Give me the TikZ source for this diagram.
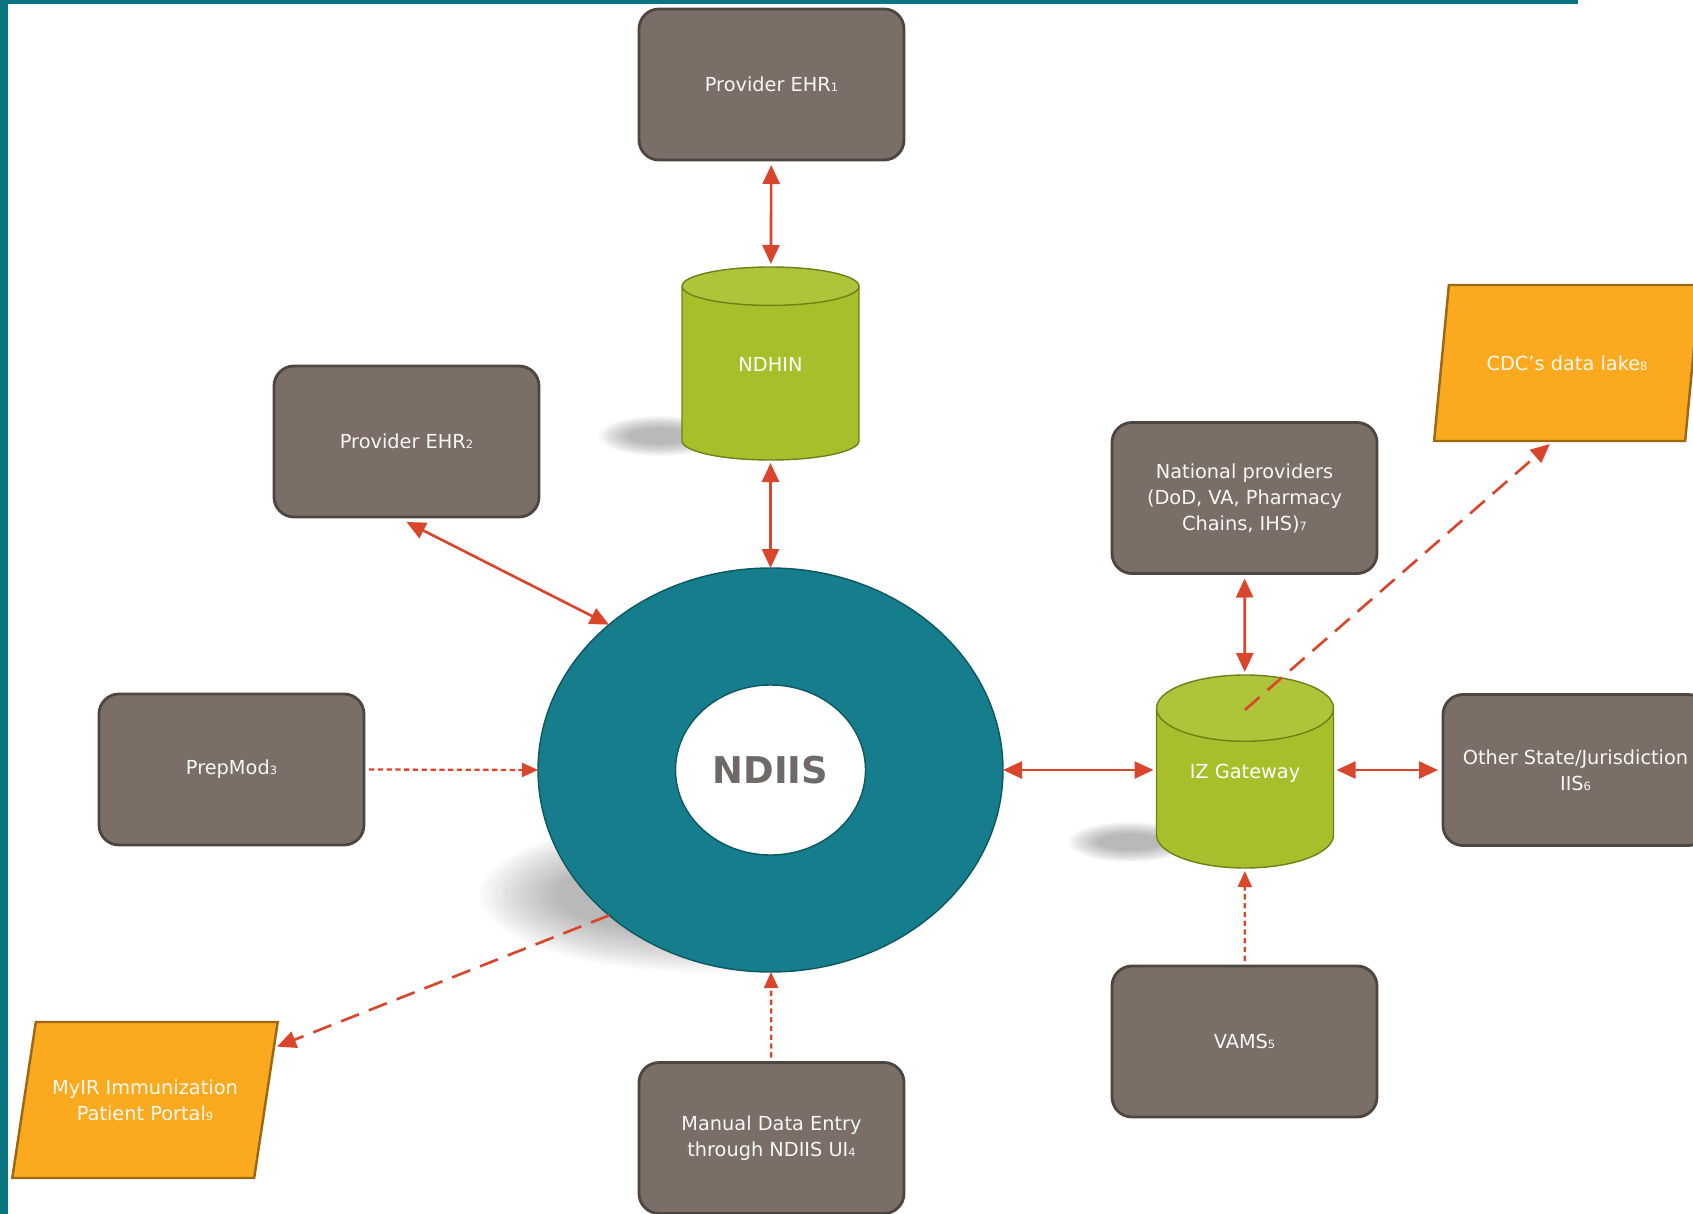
\documentclass[tikz,border=0pt]{standalone}
\usepackage{fontspec}
\setmainfont{DejaVu Sans}
\usetikzlibrary{shapes.geometric,arrows.meta,calc}
\definecolor{frameteal}{HTML}{0A7480}
\definecolor{ringteal}{HTML}{167D8C}
\definecolor{ringedge}{HTML}{0D5761}
\definecolor{boxgray}{HTML}{7A6E67}
\definecolor{boxedge}{HTML}{4D4540}
\definecolor{gwgreen}{HTML}{A7BF2A}
\definecolor{gwedge}{HTML}{6F8019}
\definecolor{lakeorange}{HTML}{FBA91F}
\definecolor{lakeedge}{HTML}{9C6912}
\definecolor{linkred}{HTML}{D9462B}
\definecolor{labelgray}{HTML}{6E6A67}
\newcommand\refno[1]{{\fontsize{6.5}{6.5}\selectfont #1}}
\tikzset{sysbox/.style = {rectangle, rounded corners=0.4cm, fill=boxgray, draw=boxedge, line width=1.6pt,
            minimum width=5.3cm, minimum height=3.02cm, text=white!94!boxgray, align=center,
            font=\fontsize{11}{14.8}\selectfont, outer sep=0.1cm},
        store/.style = {cylinder, shape border rotate=90, aspect=0.6, cylinder uses custom fill,
            cylinder body fill=gwgreen, cylinder end fill=gwgreen!92!white, draw=gwedge, thick,
            minimum width=3.54cm, minimum height=3.86cm, inner sep=0pt, text=white, anchor=shape center,
            font=\fontsize{11}{14.8}\selectfont, outer sep=0.06cm},
        lake/.style = {trapezium, trapezium left angle=68, trapezium right angle=112, trapezium stretches=true,
            fill=lakeorange, draw=lakeedge, line width=1.4pt, minimum width=5.32cm, minimum height=3.12cm,
            text=white!94!lakeorange, align=center, font=\fontsize{11}{14.8}\selectfont, outer sep=0.06cm},
    ring/.style = {ellipse, fill=ringteal, draw=ringedge, thick, minimum width=9.3cm, minimum height=8.08cm,
            inner sep=0pt, outer sep=0pt},
    hole/.style = {ellipse, fill=white, draw=ringedge, thick, minimum width=3.8cm, minimum height=3.4cm,
            inner sep=0pt, text=labelgray, font=\fontsize{21}{21}\bfseries\selectfont},
    both/.style = {{Triangle[length=0.38cm,width=0.34cm]}-{Triangle[length=0.38cm,width=0.34cm]}, draw=linkred, line width=1.5pt},
    feed/.style = {-{Triangle[length=0.32cm,width=0.28cm]}, draw=linkred, line width=1.3pt, dash pattern=on 3pt off 2pt},
    push/.style = {-{Triangle[length=0.38cm,width=0.34cm]}, draw=linkred, line width=1.5pt, dash pattern=on 11pt off 6pt}
}

\begin{document}
\begin{tikzpicture}[x=2cm,y=-2cm]
    \useasboundingbox (0,0) rectangle (16.93,12.14);
    \fill[frameteal] (0,0) rectangle (15.78,0.045);
    \fill[frameteal] (0,0) rectangle (0.08,12.14);

    % soft shadows
    \foreach \k in {1,...,16}{
        \fill[black, opacity=0.018] (7.05,8.95) ellipse ({2.3-0.05*\k} and {0.8-0.025*\k});
        \fill[black, opacity=0.02] (6.6,4.36) ellipse ({0.64-0.02*\k} and {0.21-0.008*\k});
        \fill[black, opacity=0.02] (11.3,8.42) ellipse ({0.64-0.02*\k} and {0.21-0.008*\k});
    }

    \node[sysbox] (ehrone) at (7.715,0.845) {Provider EHR\refno{1}};
    \node[store] (ndhin) at (7.705,3.635) {\raisebox{0.03cm}[0pt][0pt]{NDHIN}};
    \node[sysbox] (ehrtwo) at (4.065,4.415) {Provider EHR\refno{2}};
    \node[lake] (cdc) at (15.67,3.63) {CDC’s data lake\refno{8}};
    \node[sysbox] (natl) at (12.445,4.98) {National providers\\(DoD, VA, Pharmacy\\Chains, IHS)\refno{7}};

    \node[ring] (ndiis) at (7.705,7.70) {};
    \node[hole] (core) at (ndiis) {NDIIS};

    \node[sysbox] (prepmod) at (2.315,7.695) {PrepMod\refno{3}};
    \node[store] (izgw) at (12.45,7.715) {\raisebox{0.2cm}[0pt][0pt]{IZ Gateway}};
    \node[sysbox] (other) at (15.755,7.70) {Other State/Jurisdiction\\IIS\refno{6}};
    \node[lake] (mypr) at (1.45,11.0) {MyIR Immunization\\Patient Portal\refno{9}};
    \node[sysbox] (manual) at (7.715,11.38) {Manual Data Entry\\through NDIIS UI\refno{4}};
    \node[sysbox] (vams) at (12.445,10.415) {VAMS\refno{5}};

    \draw[both] (ehrone) -- (ndhin);
    \draw[both] (ndhin) -- (ndiis);
    \draw[both] (ehrtwo.south) -- (ndiis.138);
    \draw[feed] (prepmod.east) -- (ndiis.west);
    \draw[both] (ndiis.east) -- (ndiis.east -| izgw.west);
    \draw[both] (other.west -| izgw.east) -- (other.west);
    \draw[both] (natl) -- (izgw);
    \draw[feed] (vams) -- (izgw);
    \draw[feed] (manual) -- (ndiis);
    \draw[push] (ndiis.222) -- (mypr.22);
    \draw[push] ($(izgw.north)!0.38!(izgw.shape center)$) -- (cdc.258);
\end{tikzpicture}
\end{document}
